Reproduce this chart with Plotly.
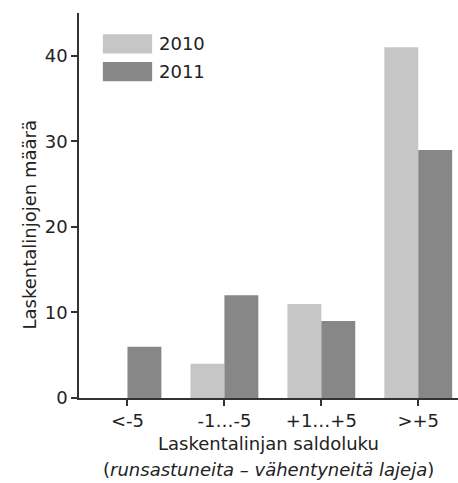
import plotly.graph_objects as go

# Category labels and counts per year
categories = ["<-5", "-1…-5", "+1…+5", ">+5"]
counts_2010 = [0, 4, 11, 41]
counts_2011 = [6, 12, 9, 29]
years = ["2010", "2011"]
colors = ["#c6c6c6", "#878787"]

FONT = "DejaVu Sans"
TEXT = "#222222"
AXIS = "#333333"

fig = go.Figure()
for year, vals, col in zip(years, [counts_2010, counts_2011], colors):
    fig.add_trace(go.Bar(x=categories, y=vals, name=year,
                         marker=dict(color=col, line=dict(width=0)),
                         showlegend=False))

# Legend drawn as swatches plus labels in the upper-left corner
swatch_top = [0.945, 0.873]
for year, col, top in zip(years, colors, swatch_top):
    fig.add_shape(type="rect", xref="paper", yref="paper",
                  x0=0.063, x1=0.193, y0=top - 0.05, y1=top,
                  fillcolor=col, line=dict(width=0))
    fig.add_annotation(xref="paper", yref="paper", x=0.205, y=top - 0.025,
                       text=year, showarrow=False, xanchor="left",
                       yanchor="middle", font=dict(family=FONT, size=18, color=TEXT))

# Axis titles
fig.add_annotation(xref="paper", yref="paper", x=0.5, y=-0.117,
                   text="Laskentalinjan saldoluku", showarrow=False,
                   xanchor="center", yanchor="middle",
                   font=dict(family=FONT, size=18, color=TEXT))
fig.add_annotation(xref="paper", yref="paper", x=0.5, y=-0.185,
                   text="(<i>runsastuneita – vähentyneitä lajeja</i>)", showarrow=False,
                   xanchor="center", yanchor="middle",
                   font=dict(family=FONT, size=18, color=TEXT))
fig.add_annotation(xref="paper", yref="paper", x=-0.13, y=0.45,
                   text="Laskentalinjojen määrä", showarrow=False, textangle=-90,
                   xanchor="center", yanchor="middle",
                   font=dict(family=FONT, size=18, color=TEXT))

fig.update_layout(
    width=458, height=483,
    margin=dict(l=79, r=0, t=13, b=85),
    paper_bgcolor="white", plot_bgcolor="white",
    barmode="group", bargap=0.3, bargroupgap=0,
    font=dict(family=FONT, size=18, color=TEXT),
    xaxis=dict(range=[-0.5, 3.41], showline=True, linecolor=AXIS, linewidth=1.5,
               ticks="outside", ticklen=6, tickcolor=AXIS, tickwidth=1.5,
               showgrid=False, zeroline=False, tickfont=dict(size=18)),
    yaxis=dict(range=[0, 45], tickvals=[0, 10, 20, 30, 40], showline=True,
               linecolor=AXIS, linewidth=1.5, ticks="outside", ticklen=6,
               tickcolor=AXIS, tickwidth=1.5, showgrid=False, zeroline=False,
               tickfont=dict(size=18)),
)

fig.write_html("out.html")
